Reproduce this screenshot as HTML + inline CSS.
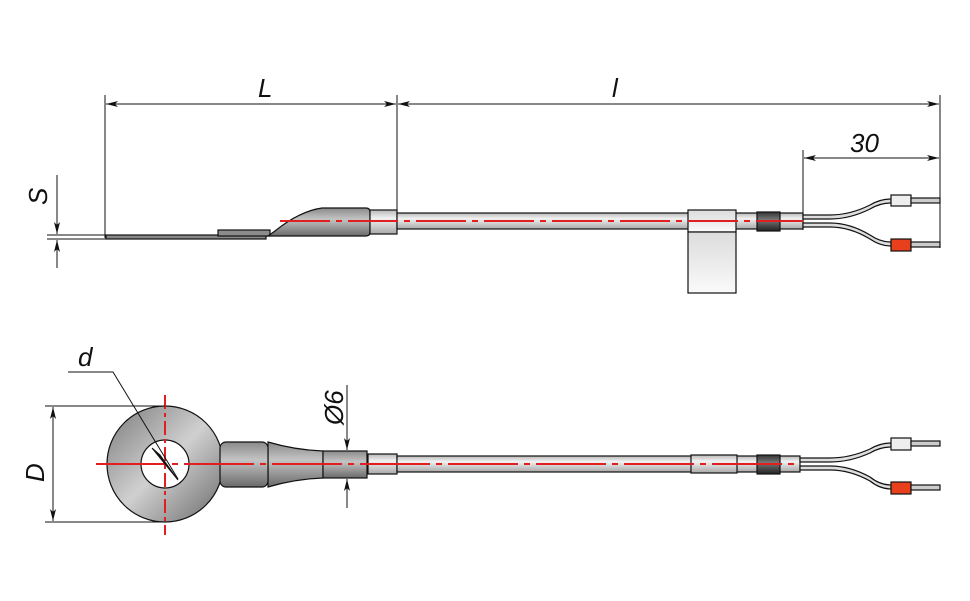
<!DOCTYPE html>
<html><head><meta charset="utf-8"><style>html,body{margin:0;padding:0;background:#fff}svg{display:block}</style></head>
<body>
<svg width="970" height="601" viewBox="0 0 970 601" xmlns="http://www.w3.org/2000/svg" font-family="Liberation Sans, sans-serif">
<defs>
<linearGradient id="cab" x1="0" y1="0" x2="0" y2="1"><stop offset="0" stop-color="#b8b8b8"/><stop offset="0.35" stop-color="#f2f2f2"/><stop offset="1" stop-color="#a8a8a8"/></linearGradient>
<linearGradient id="dark" x1="0" y1="0" x2="0" y2="1"><stop offset="0" stop-color="#8a8a8a"/><stop offset="0.4" stop-color="#c4c4c4"/><stop offset="1" stop-color="#6a6a6a"/></linearGradient>
<linearGradient id="ring" x1="0" y1="0" x2="1" y2="1"><stop offset="0" stop-color="#7a7a7a"/><stop offset="0.5" stop-color="#d0d0d0"/><stop offset="1" stop-color="#6a6a6a"/></linearGradient>
<linearGradient id="blk" x1="0" y1="0" x2="0" y2="1"><stop offset="0" stop-color="#333"/><stop offset="0.4" stop-color="#777"/><stop offset="1" stop-color="#222"/></linearGradient>
<linearGradient id="clip" x1="0" y1="0" x2="0" y2="1"><stop offset="0" stop-color="#dcdcdc"/><stop offset="1" stop-color="#fafafa"/></linearGradient>
<marker id="a" viewBox="0 0 12 6" refX="12" refY="3" markerWidth="12" markerHeight="6" orient="auto-start-reverse" markerUnits="userSpaceOnUse"><path d="M0,0 L12,3 L0,6 L3,3z" fill="#111"/></marker>
</defs>
<g stroke="#111" stroke-width="1" fill="none">
<!-- top dimensions -->
<line x1="105" y1="95" x2="105" y2="238"/>
<line x1="397" y1="95" x2="397" y2="232"/>
<line x1="940" y1="95" x2="940" y2="248"/>
<line x1="106" y1="104" x2="396" y2="104" marker-start="url(#a)" marker-end="url(#a)"/>
<line x1="398" y1="104" x2="939" y2="104" marker-start="url(#a)" marker-end="url(#a)"/>
<line x1="803" y1="150" x2="803" y2="230"/>
<line x1="804" y1="158" x2="939" y2="158" marker-start="url(#a)" marker-end="url(#a)"/>
<!-- S -->
<line x1="47" y1="235" x2="106" y2="235"/>
<line x1="47" y1="239" x2="106" y2="239"/>
<line x1="57" y1="175" x2="57" y2="234" marker-end="url(#a)"/>
<line x1="57" y1="268" x2="57" y2="240" marker-end="url(#a)"/>
</g>
<g font-style="italic" font-size="26" fill="#111">
<text x="258" y="97">L</text>
<text x="612" y="97">l</text>
<text x="850" y="152">30</text>
<text transform="translate(47,205) rotate(-90)">S</text>
<text transform="translate(44,482) rotate(-90)">D</text>
<text x="78" y="366">d</text>
<text transform="translate(343,425) rotate(-90)">Ø6</text>
</g>
<!-- top probe -->
<g stroke="#111" stroke-width="1.2">
<rect x="106" y="235" width="160" height="4" fill="#888"/>
<rect x="218" y="230" width="52" height="6" fill="#8c8c8c"/>
<path d="M268,236 L275,231 Q300,211 322,208 L366,208 Q370,208 370,212 L370,232 Q370,236 366,236 Z" fill="url(#dark)"/>
<rect x="370" y="210" width="27" height="24" fill="url(#cab)"/>
<rect x="397" y="213" width="406" height="16" fill="url(#cab)"/>
<rect x="688" y="210" width="48" height="22" fill="url(#clip)"/>
<rect x="688" y="232" width="48" height="61" fill="url(#clip)"/>
<rect x="757" y="212" width="23" height="19" fill="url(#blk)"/>
<path d="M803,215 L830,215 Q850,215 870,205 Q880,199 891,199 L891,203 Q880,203 870,209 Q850,219 830,219 L803,219Z" fill="#ddd"/>
<path d="M803,223 L830,223 Q850,223 870,235 Q880,242 891,242 L891,246 Q880,246 870,239 Q850,227 830,227 L803,227Z" fill="#ddd"/>
<rect x="891" y="195" width="20" height="11" fill="#eee"/>
<rect x="911" y="198" width="29" height="5" fill="#ccc"/>
<rect x="891" y="239" width="20" height="12" fill="#e8401c"/>
<rect x="911" y="242" width="29" height="5" fill="#ccc"/>
</g>
<line x1="280" y1="221" x2="803" y2="221" stroke="#e02020" stroke-width="2" stroke-dasharray="50,6,6,6"/>
<!-- bottom probe -->
<g stroke="#111" stroke-width="1.2">
<circle cx="165" cy="464" r="58" fill="url(#ring)"/>
<circle cx="165" cy="464" r="24" fill="#fff"/>
<path d="M268,442 Q295,450 323,451 L323,478 Q295,479 268,487Z" fill="url(#dark)"/>
<rect x="220" y="442" width="48" height="45" rx="6" fill="url(#dark)"/>
<rect x="323" y="451" width="44" height="27" fill="url(#dark)"/>
<rect x="368" y="454" width="29" height="20" fill="url(#cab)"/>
<rect x="397" y="456" width="403" height="16" fill="url(#cab)"/>
<rect x="691" y="455" width="46" height="18" fill="url(#cab)"/>
<rect x="757" y="455" width="23" height="19" fill="url(#blk)"/>
<path d="M800,458 L830,458 Q850,458 870,449 Q880,443 891,443 L891,447 Q880,447 870,453 Q850,462 830,462 L800,462Z" fill="#ddd"/>
<path d="M800,466 L830,466 Q850,466 870,477 Q880,485 891,485 L891,489 Q880,489 870,481 Q850,470 830,470 L800,470Z" fill="#ddd"/>
<rect x="891" y="438" width="20" height="12" fill="#eee"/>
<rect x="911" y="441" width="29" height="5" fill="#ccc"/>
<rect x="891" y="482" width="20" height="12" fill="#e8401c"/>
<rect x="911" y="485" width="29" height="5" fill="#ccc"/>
</g>
<g stroke="#e02020" stroke-width="2">
<line x1="165" y1="395" x2="165" y2="535" stroke-dasharray="14,4,4,4"/>
<line x1="96" y1="464" x2="800" y2="464" stroke-dasharray="70,6,6,6"/>
</g>
<g stroke="#111" stroke-width="1" fill="none">
<line x1="45" y1="406" x2="165" y2="406"/>
<line x1="45" y1="522" x2="165" y2="522"/>
<line x1="53" y1="407" x2="53" y2="521" marker-start="url(#a)" marker-end="url(#a)"/>
<polyline points="68,372 113,372 178,479"/>
<path d="M152,448 L178,480 L160,455Z" fill="#111"/>
<line x1="347" y1="385" x2="347" y2="450" marker-end="url(#a)"/>
<line x1="347" y1="508" x2="347" y2="479" marker-end="url(#a)"/>
</g>
</svg>
</body></html>
